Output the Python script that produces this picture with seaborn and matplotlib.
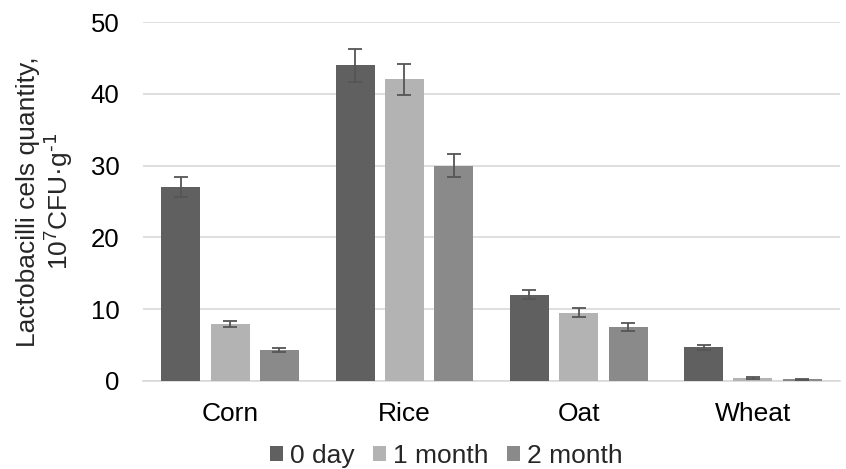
import matplotlib
matplotlib.use("Agg")
import matplotlib.pyplot as plt
import seaborn as sns
import pandas as pd

categories = ["Corn", "Rice", "Oat", "Wheat"]
periods = ["0 day", "1 month", "2 month"]
values_0day = [27.0, 44.0, 12.0, 4.7]
values_1month = [7.9, 42.0, 9.5, 0.4]
values_2month = [4.3, 30.0, 7.5, 0.2]
err_0day = [1.4, 2.3, 0.6, 0.35]
err_1month = [0.45, 2.2, 0.6, 0.15]
err_2month = [0.3, 1.6, 0.5, 0.1]
y_ticks = [0, 10, 20, 30, 40, 50]

colors = ["#606060", "#b3b3b3", "#8a8a8a"]

sns.set_theme(style="white")
plt.rcParams["font.family"] = ["Liberation Sans", "DejaVu Sans"]
plt.rcParams["mathtext.default"] = "regular"

rows = []
for period, vals in zip(periods, [values_0day, values_1month, values_2month]):
    for cat, v in zip(categories, vals):
        rows.append({"grain": cat, "period": period, "value": v})
df = pd.DataFrame(rows)

fig = plt.figure(figsize=(8.46, 4.69), dpi=100)
ax = fig.add_axes([0.169, 0.188, 0.824, 0.765])

sns.barplot(data=df, x="grain", y="value", hue="period", order=categories,
            hue_order=periods, palette=colors, width=0.85, gap=0.21,
            errorbar=None, ax=ax, zorder=3, linewidth=0)

# error bars on each bar
for cont, errs in zip(ax.containers, [err_0day, err_1month, err_2month]):
    for bar, e in zip(cont, errs):
        xc = bar.get_x() + bar.get_width() / 2
        ax.errorbar(xc, bar.get_height(), yerr=e, color="#555555",
                    capsize=5, elinewidth=1.3, capthick=1.3, zorder=4)

ax.set_ylim(0, 50)
ax.set_xlim(-0.5, 3.5)
ax.set_yticks(y_ticks)
ax.yaxis.grid(True, color="#d9d9d9", linewidth=1.2, zorder=0)
ax.set_axisbelow(True)
for s in ["top", "right", "left"]:
    ax.spines[s].set_visible(False)
ax.spines["bottom"].set_color("#d9d9d9")
ax.spines["bottom"].set_linewidth(1.2)
ax.tick_params(axis="both", length=0, colors="#000000")
ax.tick_params(axis="y", labelsize=18.5, pad=17)
ax.tick_params(axis="x", labelsize=19, pad=15)
ax.set_xlabel("")
ax.set_ylabel("Lactobacilli cels quantity,\n10$^{7}$CFU·g$^{\\text{-1}}$", fontsize=19,
              linespacing=1.1, labelpad=11)

leg = ax.legend(loc="upper center", bbox_to_anchor=(0.435, -0.138), ncol=3,
                frameon=False, fontsize=19, handlelength=0.5, handleheight=0.5,
                handletextpad=0.25, columnspacing=0.7, borderpad=0.0)

fig.savefig("out.png", dpi=100)
